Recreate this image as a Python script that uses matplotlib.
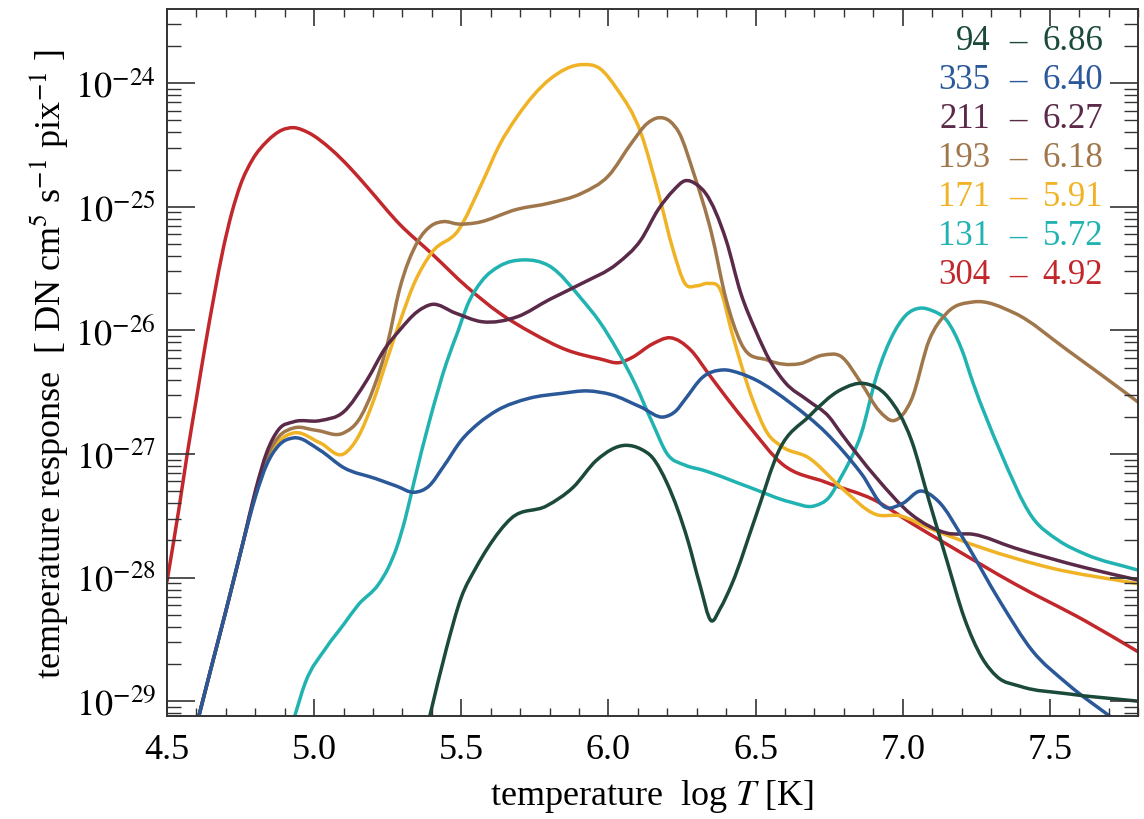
import numpy as np
import matplotlib
matplotlib.use("Agg")
import matplotlib.pyplot as plt
from matplotlib.path import Path
from matplotlib.patches import PathPatch
from matplotlib.ticker import LogLocator, MultipleLocator, NullFormatter, FormatStrFormatter

plt.rcParams["font.family"] = ["Liberation Serif", "DejaVu Serif"]
plt.rcParams["mathtext.fontset"] = "stix"

# channel labels (wavelength - peak log T), colours
channels = ["94", "335", "211", "193", "171", "131", "304"]
peaks = ["6.86", "6.40", "6.27", "6.18", "5.91", "5.72", "4.92"]
colors = ["#1b4a3b", "#2b5899", "#5a2a48", "#9f774b", "#f0b326", "#21b3b1", "#c1272b"]

# responses: log T and log10(response)
x_94 = [5.39, 5.45, 5.50, 5.55, 5.59, 5.67, 5.79, 5.88, 5.96, 6.06, 6.11, 6.15, 6.20,
        6.27, 6.31, 6.35, 6.38, 6.42, 6.50, 6.58, 6.68, 6.79, 6.87, 6.95, 7.03, 7.09,
        7.15, 7.21, 7.27, 7.32, 7.40, 7.56, 7.80]
y_94 = [-29.15, -28.57, -28.16, -27.92, -27.76, -27.52, -27.42, -27.27, -27.05, -26.93,
        -26.96, -27.03, -27.24, -27.70, -28.05, -28.35, -28.25, -28.05, -27.51, -26.97,
        -26.70, -26.48, -26.43, -26.54, -26.89, -27.38, -27.86, -28.33, -28.65, -28.80,
        -28.88, -28.94, -29.00]

x_335 = [4.605, 4.65, 4.70, 4.76, 4.80, 4.84, 4.88, 4.93, 5.02, 5.10, 5.21, 5.28, 5.34,
         5.39, 5.44, 5.50, 5.56, 5.62, 5.73, 5.84, 5.93, 6.01, 6.11, 6.19, 6.23, 6.26,
         6.32, 6.39, 6.45, 6.50, 6.62, 6.74, 6.86, 6.94, 7.00, 7.06, 7.12, 7.21, 7.33,
         7.44, 7.56, 7.72]
y_335 = [-29.15, -28.73, -28.27, -27.70, -27.35, -27.08, -26.93, -26.87, -26.97, -27.11,
         -27.20, -27.26, -27.31, -27.26, -27.10, -26.89, -26.75, -26.65, -26.55, -26.51,
         -26.49, -26.52, -26.62, -26.70, -26.65, -26.56, -26.38, -26.32, -26.35, -26.40,
         -26.59, -26.83, -27.16, -27.43, -27.40, -27.30, -27.38, -27.70, -28.19, -28.59,
         -28.86, -29.15]

x_211 = [4.605, 4.65, 4.70, 4.76, 4.80, 4.84, 4.88, 4.93, 5.02, 5.10, 5.18, 5.24, 5.29,
         5.35, 5.40, 5.48, 5.57, 5.69, 5.80, 5.91, 6.03, 6.11, 6.17, 6.22, 6.26, 6.30,
         6.33, 6.40, 6.45, 6.50, 6.55, 6.60, 6.68, 6.75, 6.79, 6.91, 7.03, 7.15, 7.24,
         7.38, 7.62, 7.80]
y_211 = [-29.15, -28.73, -28.27, -27.70, -27.30, -26.98, -26.80, -26.74, -26.73, -26.66,
         -26.40, -26.15, -26.00, -25.85, -25.79, -25.86, -25.93, -25.89, -25.75, -25.62,
         -25.46, -25.27, -25.02, -24.87, -24.79, -24.82, -24.89, -25.27, -25.70, -26.00,
         -26.25, -26.42, -26.57, -26.70, -26.83, -27.19, -27.49, -27.64, -27.65, -27.76,
         -27.92, -28.02]

x_193 = [4.605, 4.65, 4.70, 4.76, 4.80, 4.84, 4.88, 4.93, 5.01, 5.10, 5.15, 5.20, 5.25,
         5.29, 5.35, 5.40, 5.44, 5.49, 5.55, 5.69, 5.80, 5.91, 6.00, 6.08, 6.13, 6.17,
         6.21, 6.24, 6.29, 6.35, 6.40, 6.45, 6.54, 6.65, 6.73, 6.79, 6.86, 6.92, 6.97,
         7.03, 7.09, 7.15, 7.24, 7.38, 7.56, 7.80]
y_193 = [-29.15, -28.73, -28.27, -27.70, -27.32, -27.02, -26.86, -26.79, -26.81, -26.83,
         -26.73, -26.48, -26.10, -25.67, -25.29, -25.15, -25.12, -25.14, -25.13, -25.02,
         -24.97, -24.89, -24.75, -24.48, -24.33, -24.28, -24.31, -24.40, -24.73, -25.21,
         -25.75, -26.10, -26.24, -26.27, -26.20, -26.21, -26.43, -26.65, -26.73, -26.56,
         -26.08, -25.86, -25.77, -25.86, -26.16, -26.58]

x_171 = [4.605, 4.65, 4.70, 4.76, 4.80, 4.84, 4.88, 4.93, 5.02, 5.10, 5.15, 5.20, 5.25,
         5.29, 5.34, 5.40, 5.49, 5.57, 5.63, 5.69, 5.80, 5.91, 5.97, 6.03, 6.11, 6.17,
         6.22, 6.26, 6.30, 6.34, 6.38, 6.42, 6.49, 6.54, 6.59, 6.68, 6.79, 6.91, 6.99,
         7.09, 7.27, 7.50, 7.80]
y_171 = [-29.15, -28.73, -28.27, -27.70, -27.34, -27.05, -26.90, -26.83, -26.91, -27.00,
         -26.86, -26.58, -26.22, -25.94, -25.62, -25.37, -25.19, -24.81, -24.50, -24.27,
         -23.97, -23.85, -23.88, -24.05, -24.40, -24.89, -25.35, -25.62, -25.64, -25.62,
         -25.67, -26.02, -26.56, -26.83, -26.94, -27.03, -27.27, -27.49, -27.50, -27.60,
         -27.76, -27.92, -28.05]

x_131 = [4.93, 4.97, 5.04, 5.10, 5.15, 5.22, 5.25, 5.28, 5.31, 5.34, 5.39, 5.45, 5.49,
         5.52, 5.57, 5.63, 5.71, 5.80, 5.91, 5.97, 6.03, 6.09, 6.15, 6.20, 6.26, 6.32,
         6.48, 6.62, 6.70, 6.75, 6.79, 6.86, 6.91, 6.97, 7.01, 7.06, 7.10, 7.15, 7.20,
         7.24, 7.33, 7.44, 7.53, 7.62, 7.80]
y_131 = [-29.15, -28.85, -28.57, -28.38, -28.22, -28.05, -27.93, -27.76, -27.52, -27.22,
         -26.75, -26.26, -26.00, -25.80, -25.60, -25.48, -25.43, -25.48, -25.75, -25.93,
         -26.16, -26.43, -26.75, -27.00, -27.09, -27.13, -27.27, -27.39, -27.42, -27.35,
         -27.19, -26.83, -26.38, -26.02, -25.88, -25.82, -25.84, -25.92, -26.15, -26.43,
         -26.97, -27.51, -27.70, -27.81, -27.94]

x_304 = [4.50, 4.54, 4.57, 4.60, 4.63, 4.66, 4.69, 4.72, 4.75, 4.79, 4.84, 4.89, 4.93,
         4.98, 5.06, 5.12, 5.18, 5.29, 5.40, 5.52, 5.63, 5.74, 5.86, 5.97, 6.04, 6.08,
         6.15, 6.21, 6.28, 6.34, 6.40, 6.48, 6.59, 6.74, 6.91, 7.03, 7.15, 7.38, 7.62,
         7.80]
y_304 = [-28.03, -27.45, -26.98, -26.55, -26.12, -25.72, -25.35, -25.05, -24.82, -24.62,
         -24.47, -24.38, -24.36, -24.40, -24.54, -24.68, -24.84, -25.14, -25.38, -25.65,
         -25.86, -26.02, -26.16, -26.23, -26.26, -26.22, -26.11, -26.06, -26.16, -26.35,
         -26.54, -26.78, -27.08, -27.23, -27.38, -27.56, -27.73, -28.05, -28.35, -28.60]

curves = [(x_94, y_94), (x_335, y_335), (x_211, y_211), (x_193, y_193),
          (x_171, y_171), (x_131, y_131), (x_304, y_304)]

decades = [-29, -28, -27, -26, -25, -24]


def smooth_path(xs, ly):
    """Cubic Hermite (Bezier) path through the read points, built in log-y space."""
    x = np.asarray(xs, float)
    y = np.asarray(ly, float)
    d = np.gradient(y, x)
    verts = [(x[0], 10.0 ** y[0])]
    codes = [Path.MOVETO]
    for i in range(len(x) - 1):
        h = x[i + 1] - x[i]
        c1 = (x[i] + h / 3, 10.0 ** (y[i] + d[i] * h / 3))
        c2 = (x[i + 1] - h / 3, 10.0 ** (y[i + 1] - d[i + 1] * h / 3))
        verts += [c1, c2, (x[i + 1], 10.0 ** y[i + 1])]
        codes += [Path.CURVE4] * 3
    return Path(verts, codes)


fig = plt.figure(figsize=(11.44, 8.2), dpi=100)
ax = fig.add_axes([0.146, 0.1256, 0.8488, 0.8622])
ax.set_yscale("log")
ax.set_xlim(4.5, 7.8)
ax.set_ylim(10 ** -29.12, 10 ** -23.4)

for i in [6, 5, 4, 3, 2, 1, 0]:
    xs, ly = curves[i]
    ax.add_patch(PathPatch(smooth_path(xs, ly), fill=False, edgecolor=colors[i],
                           lw=2.5, capstyle="round", joinstyle="round"))

ax.xaxis.set_major_locator(MultipleLocator(0.5))
ax.xaxis.set_minor_locator(MultipleLocator(0.1))
ax.xaxis.set_major_formatter(FormatStrFormatter("%.1f"))
ax.set_yticks([10.0 ** d for d in decades])
ax.set_yticklabels([r"$10^{%d}$" % d for d in decades])
ax.yaxis.set_minor_locator(LogLocator(base=10, subs=np.arange(2, 10), numticks=20))
ax.yaxis.set_minor_formatter(NullFormatter())

ax.tick_params(which="both", direction="in", top=True, right=True, labelsize=26,
               color="#333333")
ax.tick_params(axis="x", which="major", length=12, width=1.2, pad=12)
ax.tick_params(axis="x", which="minor", length=6, width=1.0)
ax.tick_params(axis="y", which="major", length=20, width=1.2, pad=8)
ax.tick_params(axis="y", which="minor", length=10, width=1.0)
for s in ax.spines.values():
    s.set_linewidth(1.4)
    s.set_color("#333333")

ax.set_xlabel(r"temperature  log $T$ [K]", fontsize=26, labelpad=8)
ax.set_ylabel(r"temperature response  [ DN cm$^5$ s$^{-1}$ pix$^{-1}$ ]", fontsize=26,
              labelpad=4)

# coloured channel annotations in the upper right
for k, (ch, pk, c) in enumerate(zip(channels, peaks, colors)):
    yy = 0.955 - k * 0.0552
    ax.text(0.848, yy, ch, color=c, fontsize=25, ha="right", va="center",
            transform=ax.transAxes)
    ax.text(0.876, yy, "\u2013", color=c, fontsize=25, ha="center", va="center",
            transform=ax.transAxes)
    ax.text(0.964, yy, pk, color=c, fontsize=25, ha="right", va="center",
            transform=ax.transAxes)

fig.savefig("out.png", dpi=100)
